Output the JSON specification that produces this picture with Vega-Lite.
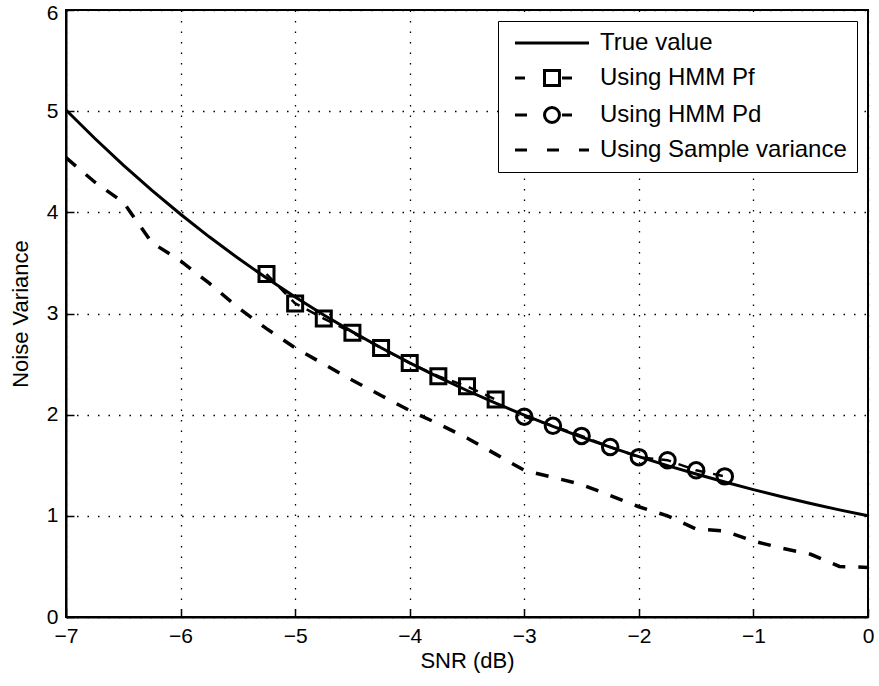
{
  "$schema": "https://vega.github.io/schema/vega-lite/v6.json",
  "width": 802,
  "height": 607,
  "autosize": {"type": "none"},
  "padding": {"left": 66, "top": 10, "right": 11, "bottom": 69},
  "background": "white",
  "config": {
    "font": "Liberation Sans",
    "view": {"stroke": "black", "strokeWidth": 2},
    "axis": {
      "domainColor": "black",
      "domainWidth": 2,
      "tickColor": "black",
      "tickWidth": 1.5,
      "tickSize": -8,
      "labelFont": "Liberation Sans",
      "labelFontSize": 21,
      "labelColor": "black",
      "titleFont": "Liberation Sans",
      "titleFontSize": 22,
      "titleFontWeight": "normal",
      "titleColor": "black",
      "grid": true,
      "gridColor": "black",
      "gridDash": [1.5, 9],
      "gridWidth": 1.3,
      "gridOpacity": 1
    }
  },
  "data": {
    "values": [
      {"series": "True value", "snr": -7, "v": 5.012},
      {"series": "True value", "snr": -6.75, "v": 4.732},
      {"series": "True value", "snr": -6.5, "v": 4.467},
      {"series": "True value", "snr": -6.25, "v": 4.217},
      {"series": "True value", "snr": -6, "v": 3.981},
      {"series": "True value", "snr": -5.75, "v": 3.758},
      {"series": "True value", "snr": -5.5, "v": 3.548},
      {"series": "True value", "snr": -5.25, "v": 3.35},
      {"series": "True value", "snr": -5, "v": 3.162},
      {"series": "True value", "snr": -4.75, "v": 2.985},
      {"series": "True value", "snr": -4.5, "v": 2.818},
      {"series": "True value", "snr": -4.25, "v": 2.661},
      {"series": "True value", "snr": -4, "v": 2.512},
      {"series": "True value", "snr": -3.75, "v": 2.371},
      {"series": "True value", "snr": -3.5, "v": 2.239},
      {"series": "True value", "snr": -3.25, "v": 2.113},
      {"series": "True value", "snr": -3, "v": 1.995},
      {"series": "True value", "snr": -2.75, "v": 1.884},
      {"series": "True value", "snr": -2.5, "v": 1.778},
      {"series": "True value", "snr": -2.25, "v": 1.679},
      {"series": "True value", "snr": -2, "v": 1.585},
      {"series": "True value", "snr": -1.75, "v": 1.496},
      {"series": "True value", "snr": -1.5, "v": 1.413},
      {"series": "True value", "snr": -1.25, "v": 1.334},
      {"series": "True value", "snr": -1, "v": 1.259},
      {"series": "True value", "snr": -0.75, "v": 1.189},
      {"series": "True value", "snr": -0.5, "v": 1.122},
      {"series": "True value", "snr": -0.25, "v": 1.059},
      {"series": "True value", "snr": 0, "v": 1.0},
      {"series": "Using HMM Pf", "snr": -5.25, "v": 3.39},
      {"series": "Using HMM Pf", "snr": -5, "v": 3.1},
      {"series": "Using HMM Pf", "snr": -4.75, "v": 2.95},
      {"series": "Using HMM Pf", "snr": -4.5, "v": 2.81},
      {"series": "Using HMM Pf", "snr": -4.25, "v": 2.66},
      {"series": "Using HMM Pf", "snr": -4, "v": 2.51},
      {"series": "Using HMM Pf", "snr": -3.75, "v": 2.38},
      {"series": "Using HMM Pf", "snr": -3.5, "v": 2.28},
      {"series": "Using HMM Pf", "snr": -3.25, "v": 2.15},
      {"series": "Using HMM Pd", "snr": -3, "v": 1.98},
      {"series": "Using HMM Pd", "snr": -2.75, "v": 1.89},
      {"series": "Using HMM Pd", "snr": -2.5, "v": 1.79},
      {"series": "Using HMM Pd", "snr": -2.25, "v": 1.68},
      {"series": "Using HMM Pd", "snr": -2, "v": 1.58},
      {"series": "Using HMM Pd", "snr": -1.75, "v": 1.55},
      {"series": "Using HMM Pd", "snr": -1.5, "v": 1.45},
      {"series": "Using HMM Pd", "snr": -1.25, "v": 1.39},
      {"series": "Using Sample variance", "snr": -7, "v": 4.54},
      {"series": "Using Sample variance", "snr": -6.75, "v": 4.3},
      {"series": "Using Sample variance", "snr": -6.5, "v": 4.1},
      {"series": "Using Sample variance", "snr": -6.25, "v": 3.7},
      {"series": "Using Sample variance", "snr": -6, "v": 3.52},
      {"series": "Using Sample variance", "snr": -5.75, "v": 3.3},
      {"series": "Using Sample variance", "snr": -5.5, "v": 3.06},
      {"series": "Using Sample variance", "snr": -5.25, "v": 2.85},
      {"series": "Using Sample variance", "snr": -5, "v": 2.66},
      {"series": "Using Sample variance", "snr": -4.75, "v": 2.5},
      {"series": "Using Sample variance", "snr": -4.5, "v": 2.34},
      {"series": "Using Sample variance", "snr": -4.25, "v": 2.19},
      {"series": "Using Sample variance", "snr": -4, "v": 2.04},
      {"series": "Using Sample variance", "snr": -3.75, "v": 1.91},
      {"series": "Using Sample variance", "snr": -3.5, "v": 1.77},
      {"series": "Using Sample variance", "snr": -3.25, "v": 1.61},
      {"series": "Using Sample variance", "snr": -3, "v": 1.45},
      {"series": "Using Sample variance", "snr": -2.75, "v": 1.38},
      {"series": "Using Sample variance", "snr": -2.5, "v": 1.31},
      {"series": "Using Sample variance", "snr": -2.25, "v": 1.2},
      {"series": "Using Sample variance", "snr": -2, "v": 1.09},
      {"series": "Using Sample variance", "snr": -1.75, "v": 1.0},
      {"series": "Using Sample variance", "snr": -1.5, "v": 0.87},
      {"series": "Using Sample variance", "snr": -1.25, "v": 0.85},
      {"series": "Using Sample variance", "snr": -1, "v": 0.75},
      {"series": "Using Sample variance", "snr": -0.75, "v": 0.68},
      {"series": "Using Sample variance", "snr": -0.5, "v": 0.62},
      {"series": "Using Sample variance", "snr": -0.25, "v": 0.5},
      {"series": "Using Sample variance", "snr": 0, "v": 0.49}
    ]
  },
  "encoding": {
    "x": {
      "field": "snr", "type": "quantitative",
      "scale": {"domain": [-7, 0], "nice": false, "zero": false},
      "axis": {"title": "SNR (dB)", "values": [-7, -6, -5, -4, -3, -2, -1, 0], "labelPadding": 16, "titlePadding": 4, "labelFlush": false}
    },
    "y": {
      "field": "v", "type": "quantitative",
      "scale": {"domain": [0, 6], "nice": false},
      "axis": {
        "title": "Noise Variance",
        "values": [0, 1, 2, 3, 4, 5, 6],
        "labelPadding": 16,
        "titlePadding": 14,
        "labelFlush": false,
        "labelOffset": {"condition": {"test": "datum.value === 6", "value": 3}, "value": 0}
      }
    }
  },
  "layer": [
    {
      "transform": [{"filter": "datum.series === 'True value'"}],
      "mark": {"type": "line", "color": "black", "strokeWidth": 3},
      "encoding": {}
    },
    {
      "transform": [{"filter": "datum.series === 'Using HMM Pf' || datum.series === 'Using HMM Pd'"}],
      "mark": {"type": "line", "color": "black", "strokeWidth": 2.5, "strokeDash": [10, 8]},
      "encoding": {"detail": {"field": "series"}}
    },
    {
      "transform": [{"filter": "datum.series === 'Using Sample variance'"}],
      "mark": {"type": "line", "color": "black", "strokeWidth": 3.5, "strokeDash": [13, 13]},
      "encoding": {}
    },
    {
      "transform": [{"filter": "datum.series === 'Using HMM Pf'"}],
      "mark": {"type": "point", "shape": "square", "size": 225, "filled": false, "color": "black", "strokeWidth": 3, "opacity": 1},
      "encoding": {}
    },
    {
      "transform": [{"filter": "datum.series === 'Using HMM Pd'"}],
      "mark": {"type": "point", "shape": "circle", "size": 240, "filled": false, "color": "black", "strokeWidth": 3, "opacity": 1},
      "encoding": {}
    },
    {
      "transform": [{"filter": "false"}],
      "mark": {"type": "point", "filled": false, "color": "black", "strokeWidth": 3, "opacity": 1},
      "encoding": {
        "shape": {
          "field": "series", "type": "nominal",
          "scale": {
            "domain": ["True value", "Using HMM Pf", "Using HMM Pd", "Using Sample variance"],
            "range": [
              "M-3.7,0H3.7",
              "M-3.7,0H-2.7M-0.75,-0.75H0.75V0.75H-0.75ZM1,0H2",
              "M-3.7,0H-2.5M0.75,0A0.75,0.75 0 1,1 -0.75,0A0.75,0.75 0 1,1 0.75,0ZM1,0H2",
              "M-3.7,0H-2.5M-0.5,0H0.7M2.7,0H3.7"
            ]
          },
          "legend": {
            "title": null,
            "orient": "top-right",
            "offset": 11,
            "padding": 10,
            "strokeColor": "black",
            "fillColor": "white",
            "cornerRadius": 0,
            "symbolSize": 400,
            "symbolStrokeWidth": 3,
            "symbolStrokeColor": "black",
            "symbolFillColor": "transparent",
            "symbolOpacity": 1,
            "symbolOffset": 32,
            "labelOffset": 36,
            "labelFont": "Liberation Sans",
            "labelFontSize": 24,
            "labelColor": "black",
            "labelLimit": 400,
            "rowPadding": 9,
            "encode": {"legend": {"update": {"strokeWidth": {"value": 1.5}}}}
          }
        }
      }
    }
  ]
}
